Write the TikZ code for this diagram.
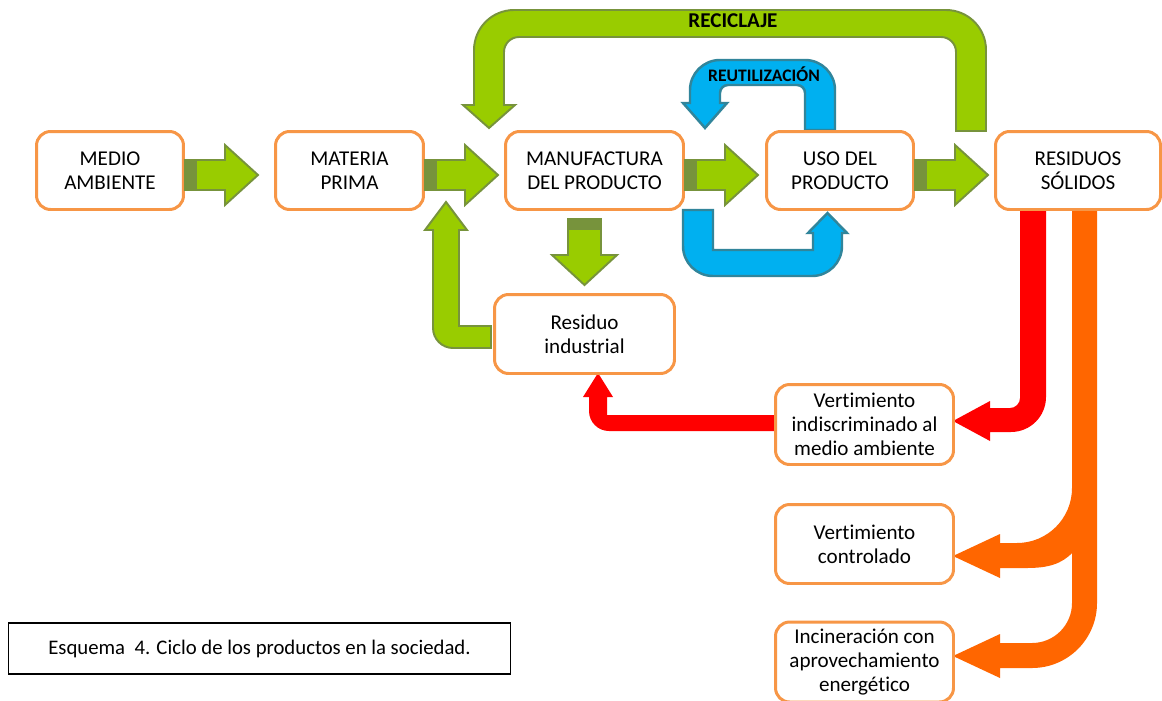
\documentclass[tikz,border=0pt]{standalone}
\usepackage{fontspec}
\setmainfont{Carlito}[Ligatures={NoCommon,NoRare,NoContextual}]
\definecolor{gfill}{RGB}{153,204,0}
\definecolor{gdark}{RGB}{119,147,60}
\definecolor{bfill}{RGB}{0,176,240}
\definecolor{bdark}{RGB}{49,133,155}
\definecolor{boxc}{RGB}{247,150,70}
\definecolor{redc}{RGB}{255,0,0}
\definecolor{orc}{RGB}{255,102,0}
\newcommand\greenblockarrow[1]{%
  \draw[garrow] #1 ++(0,-10.5) -- ++(40,0) -- ++(0,-15) -- ++(33,30) -- ++(-33,30) -- ++(0,-15) -- ++(-40,0) -- cycle;
  \fill[gdark] #1 ++(0,-10.5) rectangle ++(12,30);}
\tikzset{
  garrow/.style={draw=gdark, fill=gfill, line width=1.1pt, line join=miter},
  barrow/.style={draw=bdark, fill=bfill, line width=1.4pt, line join=miter},
  boxnode/.style={draw=boxc, line width=1.7pt, rounded corners=8pt, fill=white, align=center,
    inner sep=0pt, font=\fontsize{12}{13.6}\selectfont, text=black},
  lbl/.style={font=\bfseries\fontsize{12}{13}\selectfont, inner sep=0pt},
}
\begin{document}
\begin{tikzpicture}[x=0.02cm,y=-0.02cm]
\useasboundingbox (0,0) rectangle (1162,700);
\clip (0,0) rectangle (1162,700);
\fill[white] (0,0) rectangle (1162,700);

% boxes (positions)
\path (110,170.5) coordinate (cma) (349.5,170.5) coordinate (cmp) (594.5,170.5) coordinate (cmf)
      (840,170.5) coordinate (cuso) (1078,170.5) coordinate (crs);

% RECICLAJE arrow
\draw[garrow] (956,131) -- (956,52) arc[start angle=0,end angle=-90,radius=15]
  -- (519,37) arc[start angle=-90,end angle=-180,radius=15]
  -- (504,105) -- (515,105) -- (489,128) -- (463,105) -- (474,105)
  -- (474,50) arc[start angle=180,end angle=270,radius=40]
  -- (946,10) arc[start angle=-90,end angle=0,radius=40] -- (986,131) -- cycle;
\node[lbl] (recl) at (733,21) {RECICLAJE};

% REUTILIZACION arrow (top)
\draw[barrow] (805,130) -- (805,93) arc[start angle=0,end angle=-90,radius=8]
  -- (728,85) arc[start angle=-90,end angle=-180,radius=8]
  -- (720,103) -- (727,103) -- (705,128) -- (683,103) -- (690,103)
  -- (690,90) arc[start angle=180,end angle=270,radius=30]
  -- (805,60) arc[start angle=-90,end angle=0,radius=30] -- (835,130) -- cycle;
\node[lbl, font=\bfseries\fontsize{10}{11}\selectfont] (reut) at (764,74) {REUTILIZACIÓN};

% REUTILIZACION arrow (bottom)
\draw[barrow] (683,210) -- (683,246) arc[start angle=180,end angle=90,radius=30]
  -- (812,276) arc[start angle=90,end angle=0,radius=30]
  -- (842,233) -- (847,233) -- (827.5,213) -- (808,233) -- (813,233)
  -- (813,250) -- (713,250) -- (713,210) -- cycle;

% down arrow manufactura -> residuo industrial
\draw[garrow] (568,219) -- (601,219) -- (601,255) -- (617,255) -- (584.5,285) -- (552,255) -- (568,255) -- cycle;
\fill[gdark] (568,219) rectangle (601,230);

% L arrow residuo industrial -> materia prima
\draw[garrow] (491,326) -- (459,326) -- (459,230) -- (467,230) -- (446,202) -- (425,230) -- (433,230)
  -- (433,328) arc[start angle=180,end angle=90,radius=20] -- (491,348) -- cycle;

% red arrows
\fill[redc] (1020,211) -- (1020,398) arc[start angle=0,end angle=90,radius=10]
  -- (990,408) -- (990,401) -- (953,421) -- (990,441) -- (990,432)
  -- (1011,432) arc[start angle=90,end angle=0,radius=35] -- (1046,211) -- cycle;
\fill[redc] (776,415) -- (607,415) -- (607,397) -- (613,397) -- (598,373) -- (583,397) -- (589,397)
  -- (589,411) arc[start angle=180,end angle=90,radius=20] -- (776,431) -- cycle;

% orange arrows
\fill[orc] (1072,211) -- (1072,603) arc[start angle=0,end angle=90,radius=40]
  -- (1000,643) -- (1000,634) -- (953,656) -- (1000,678) -- (1000,668)
  -- (1032,668) arc[start angle=90,end angle=0,radius=65] -- (1097,211) -- cycle;
\fill[orc] (953,556) -- (1000,534) -- (1000,543) -- (1017,543) arc[start angle=90,end angle=0,radius=55]
  -- (1085,488) -- (1085,550) -- (1073,552) .. controls (1062,564) and (1048,568) .. (1027,568)
  -- (1000,568) -- (1000,578) -- cycle;

% boxes
\node[boxnode, minimum width=2.94cm, minimum height=1.56cm] (ma) at (cma) {MEDIO\\AMBIENTE};
\node[boxnode, minimum width=2.96cm, minimum height=1.56cm] (mp) at (cmp) {MATERIA\\PRIMA};
\node[boxnode, minimum width=3.56cm, minimum height=1.56cm] (mf) at (cmf) {MANUFACTURA\\DEL PRODUCTO};
\node[boxnode, minimum width=2.94cm, minimum height=1.56cm] (uso) at (cuso) {USO DEL\\PRODUCTO};
\node[boxnode, minimum width=3.3cm, minimum height=1.56cm] (rs) at (crs) {RESIDUOS\\SÓLIDOS};
\node[boxnode, minimum width=3.6cm, minimum height=1.58cm] (ri) at (584.5,334) {Residuo\\industrial};
\node[boxnode, minimum width=3.56cm, minimum height=1.6cm] (vi) at (864.5,424.5) {Vertimiento\\indiscriminado al\\medio ambiente};
\node[boxnode, minimum width=3.56cm, minimum height=1.58cm] (vc) at (864.5,544) {Vertimiento\\controlado};
\node[boxnode, minimum width=3.56cm, minimum height=1.6cm] (inc) at (864.5,662) {Incineración con\\aprovechamiento\\energético};

% straight green arrows
\greenblockarrow{(ma.east)}
\greenblockarrow{(mp.east)}
\greenblockarrow{(mf.east)}
\greenblockarrow{(uso.east)}

% caption
\node[draw=black, line width=0.6pt, minimum width=10.06cm, minimum height=1.02cm, inner sep=0pt,
  font=\fontsize{11.8}{13}\selectfont] (cap) at (259.5,648.5) {Esquema\ \ 4. Ciclo de los productos en la sociedad.};
\end{tikzpicture}
\end{document}
